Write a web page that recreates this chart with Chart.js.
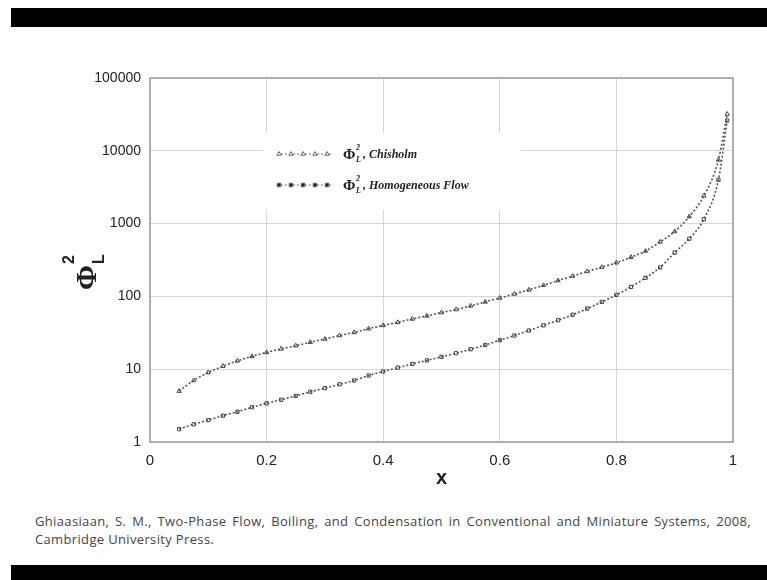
<!DOCTYPE html>
<html>
<head>
<meta charset="utf-8">
<script src="https://cdn.jsdelivr.net/npm/chart.js@4.4.1/dist/chart.umd.min.js"></script>
<style>
  html, body { margin: 0; padding: 0; background: #fff; }
  body { width: 767px; height: 580px; position: relative; overflow: hidden; }
  .bar { position: absolute; left: 11px; right: 0; background: #000; }
  #topBar { top: 8px; height: 19px; }
  #bottomBar { top: 565px; height: 15px; }
  #wrap { position: absolute; left: 0; top: 0; width: 767px; height: 510px; }
  #cite {
    position: absolute; left: 35px; top: 512px; width: 716px;
    font: 13px "Open Sans", "Liberation Sans", sans-serif; color: #444;
    line-height: 18px; letter-spacing: 0.35px;
  }
  #cite .l1 { display: block; text-align: justify; text-align-last: justify; white-space: nowrap; }
  #cite .l2 { display: block; }
</style>
</head>
<body>
<div class="bar" id="topBar"></div>
<div id="wrap"><canvas id="chart" width="767" height="510"></canvas></div>
<div id="cite"><span class="l1">Ghiaasiaan, S. M., Two-Phase Flow, Boiling, and Condensation in Conventional and Miniature Systems, 2008,</span><span class="l2">Cambridge University Press.</span></div>
<div class="bar" id="bottomBar"></div>
<script>
// quality x values
const quality = [0.05, 0.075, 0.1, 0.125, 0.15, 0.175, 0.2, 0.225, 0.25, 0.275, 0.3, 0.325, 0.35, 0.375,
    0.4, 0.425, 0.45, 0.475, 0.5, 0.525, 0.55, 0.575, 0.6, 0.625, 0.65, 0.675, 0.7, 0.725, 0.75, 0.775,
    0.8, 0.825, 0.85, 0.875, 0.9, 0.925, 0.95, 0.975, 0.99];

// two-phase multiplier, Chisholm
const chisholm = [5, 7, 9, 11, 13, 15, 17, 19, 21, 23.5, 26, 29, 32, 36,
    40, 44, 49, 54, 60, 66, 74, 84, 95, 108, 123, 142, 165, 190, 220, 252,
    290, 345, 420, 560, 780, 1250, 2400, 7500, 32000];

// two-phase multiplier, homogeneous flow
const homogeneous = [1.5, 1.75, 2.0, 2.3, 2.6, 3.0, 3.4, 3.8, 4.3, 4.9, 5.5, 6.2, 7.0, 8.2,
    9.3, 10.5, 11.8, 13.2, 14.8, 16.6, 18.8, 21.5, 25, 29, 34, 40, 47, 56, 68, 84,
    105, 135, 180, 250, 400, 620, 1150, 4000, 26000];

const xTickValues = [0, 0.2, 0.4, 0.6, 0.8, 1];
const xTickLabels = ['0', '0.2', '0.4', '0.6', '0.8', '1'];
const yTickValues = [1, 10, 100, 1000, 10000, 100000];
const yTickLabels = ['1', '10', '100', '1000', '10000', '100000'];

const seriesNames = ['Chisholm', 'Homogeneous Flow'];

function toPoints(xs, ys) {
    return xs.map((x, i) => ({ x: x, y: ys[i] }));
}

// Extra drawing: frame, legend, axis titles
const overlay = {
    id: 'overlay',
    afterDatasetsDraw(chart) {
        const ctx = chart.ctx;
        const a = chart.chartArea;
        ctx.save();

        // frame round the plot
        ctx.strokeStyle = '#9a9a9a';
        ctx.lineWidth = 1.5;
        ctx.strokeRect(a.left, a.top, a.right - a.left, a.bottom - a.top);

        // legend box
        const lx = 263, ly = 133;
        ctx.fillStyle = '#fff';
        ctx.fillRect(lx, ly, 258, 77);

        const rows = [
            { y: ly + 21, style: 'triangle', sub: 'L', name: seriesNames[0] },
            { y: ly + 52, style: 'rect', sub: 'L', name: seriesNames[1] }
        ];
        rows.forEach(r => {
            ctx.strokeStyle = '#666';
            ctx.lineWidth = 1;
            ctx.setLineDash([2, 2]);
            ctx.beginPath();
            ctx.moveTo(lx + 14, r.y);
            ctx.lineTo(lx + 68, r.y);
            ctx.stroke();
            ctx.setLineDash([]);
            for (let i = 0; i < 5; i++) {
                Chart.helpers.drawPoint(ctx, {
                    pointStyle: r.style, radius: 2.5, rotation: 0, borderWidth: 1
                }, lx + 16 + i * 12, r.y);
            }
            ctx.fillStyle = '#222';
            ctx.textBaseline = 'alphabetic';
            ctx.textAlign = 'left';
            ctx.font = 'bold 15px "Liberation Serif", serif';
            ctx.fillText('\u03A6', lx + 80, r.y + 5);
            ctx.font = 'bold italic 8px "Liberation Serif", serif';
            ctx.fillText('2', lx + 93, r.y - 4);
            ctx.fillText('L', lx + 93, r.y + 8);
            ctx.font = 'bold italic 12px "Liberation Serif", serif';
            ctx.fillText(', ' + r.name, lx + 100, r.y + 4);
        });

        // x axis title
        ctx.fillStyle = '#222';
        ctx.font = 'bold 20px "Liberation Sans", sans-serif';
        ctx.textAlign = 'center';
        ctx.fillText('x', (a.left + a.right) / 2, 484);

        // y axis title, rotated
        ctx.translate(96, 290);
        ctx.rotate(-Math.PI / 2);
        ctx.textAlign = 'left';
        ctx.font = 'bold 30px "Liberation Serif", serif';
        ctx.fillText('\u03A6', 0, 0);
        ctx.font = 'bold 16px "Liberation Sans", sans-serif';
        ctx.fillText('2', 26, -22);
        ctx.fillText('L', 26, 8);
        ctx.restore();
    }
};

const ctx = document.getElementById('chart').getContext('2d');
new Chart(ctx, {
    type: 'scatter',
    data: {
        datasets: [
            {
                label: seriesNames[0],
                data: toPoints(quality, chisholm),
                showLine: true,
                cubicInterpolationMode: 'monotone',
                borderColor: '#555',
                borderWidth: 1.6,
                borderDash: [2, 2],
                pointStyle: 'triangle',
                pointRadius: 2.5,
                pointBorderColor: '#444',
                pointBackgroundColor: 'rgba(0,0,0,0)',
                pointBorderWidth: 1
            },
            {
                label: seriesNames[1],
                data: toPoints(quality, homogeneous),
                showLine: true,
                cubicInterpolationMode: 'monotone',
                borderColor: '#555',
                borderWidth: 1.6,
                borderDash: [2, 2],
                pointStyle: 'rect',
                pointRadius: 2.3,
                pointBorderColor: '#444',
                pointBackgroundColor: 'rgba(0,0,0,0)',
                pointBorderWidth: 1
            }
        ]
    },
    options: {
        responsive: false,
        animation: false,
        layout: { padding: { left: 0, right: 34, top: 78, bottom: 0 } },
        plugins: {
            legend: { display: false },
            tooltip: { enabled: false }
        },
        scales: {
            x: {
                type: 'linear',
                min: 0,
                max: 1,
                afterFit: s => { s.height = 68; },
                afterBuildTicks: s => { s.ticks = xTickValues.map(v => ({ value: v })); },
                grid: { color: '#d6d6d6', lineWidth: 1, drawTicks: false },
                border: { display: false },
                ticks: {
                    padding: 10,
                    color: '#222',
                    font: { family: '"Liberation Sans", Arial, sans-serif', size: 15 },
                    callback: (v, i) => xTickLabels[i]
                }
            },
            y: {
                type: 'logarithmic',
                min: 1,
                max: 100000,
                afterFit: s => { s.width = 150; },
                afterBuildTicks: s => { s.ticks = yTickValues.map(v => ({ value: v, major: true })); },
                grid: { color: '#d6d6d6', lineWidth: 1, drawTicks: false },
                border: { display: false },
                ticks: {
                    padding: 9,
                    color: '#222',
                    font: { family: '"Liberation Sans", Arial, sans-serif', size: 14 },
                    callback: (v, i) => yTickLabels[i]
                }
            }
        }
    },
    plugins: [overlay]
});
</script>
</body>
</html>
